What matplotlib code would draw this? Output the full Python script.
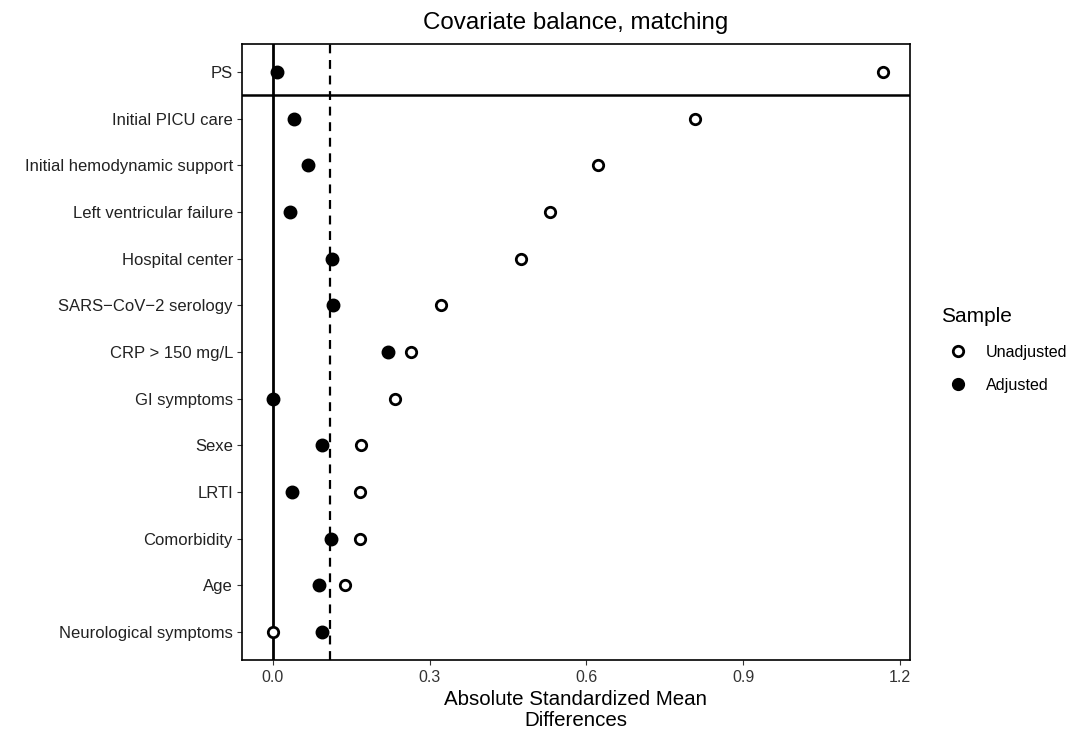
import matplotlib
matplotlib.use("Agg")
import matplotlib.pyplot as plt
from matplotlib.lines import Line2D

plt.rcParams['font.family'] = ['Liberation Sans', 'DejaVu Sans']

covariates = ["PS", "Initial PICU care", "Initial hemodynamic support",
              "Left ventricular failure", "Hospital center", "SARS\u2212CoV\u22122 serology",
              "CRP > 150 mg/L", "GI symptoms", "Sexe", "LRTI", "Comorbidity", "Age",
              "Neurological symptoms"]
unadjusted = [1.167, 0.808, 0.622, 0.530, 0.474, 0.321, 0.265, 0.234, 0.169, 0.167, 0.167, 0.138, 0.0]
adjusted = [0.008, 0.040, 0.067, 0.033, 0.113, 0.115, 0.221, 0.0, 0.094, 0.036, 0.111, 0.088, 0.094]
threshold = 0.11
xticks = [0.0, 0.3, 0.6, 0.9, 1.2]

fig = plt.figure(figsize=(10.73, 7.3), dpi=100)
W, H = 1073, 730
left, right, top, bottom = 242, 910, 44, 660
ax = fig.add_axes([left / W, 1 - bottom / H, (right - left) / W, (bottom - top) / H])

n = len(covariates)
ypos = list(range(n - 1, -1, -1))

ax.axvline(0, color='black', lw=2.0, zorder=1)
ax.axvline(threshold, color='black', lw=1.6, ls=(0, (4, 3)), zorder=1)
ax.axhline(n - 1.5, color='black', lw=1.8, zorder=1)

ax.plot(adjusted, ypos, 'o', ms=8.5, mfc='black', mec='black', mew=1.5, ls='none', zorder=3)
ax.plot(unadjusted, ypos, 'o', ms=7.5, mfc='white', mec='black', mew=2.0, ls='none', zorder=4)

ax.set_yticks(ypos)
ax.set_yticklabels(covariates, fontsize=12, color='#222222')
ax.set_xticks(xticks)
ax.set_xticklabels([f"{t:.1f}" for t in xticks], fontsize=11.5, color='#333333')
ax.set_ylim(-0.6, n - 1 + 0.6)
ax.set_xlim(-0.059, 1.219)
ax.tick_params(axis='both', length=3.5, width=0.8, color='#333333')
ax.tick_params(axis='y', pad=3)
ax.tick_params(axis='x', pad=4)
for s in ax.spines.values():
    s.set_linewidth(1.2)
    s.set_color('black')

ax.set_xlabel("Absolute Standardized Mean\nDifferences", fontsize=14.8, linespacing=1.15, labelpad=3)
ax.set_title("Covariate balance, matching", fontsize=17.4, pad=11)

handles = [Line2D([], [], marker='o', ls='none', ms=7.5, mfc='white', mec='black', mew=2.0),
           Line2D([], [], marker='o', ls='none', ms=8.5, mfc='black', mec='black')]
leg = fig.legend(handles, ["Unadjusted", "Adjusted"], title="Sample",
                 loc='upper left', bbox_to_anchor=(927 / W, 1 - 293 / H),
                 frameon=False, fontsize=11.6, title_fontsize=15,
                 handletextpad=0.75, labelspacing=1.12, alignment='left')

fig.savefig("out.png", dpi=100)
